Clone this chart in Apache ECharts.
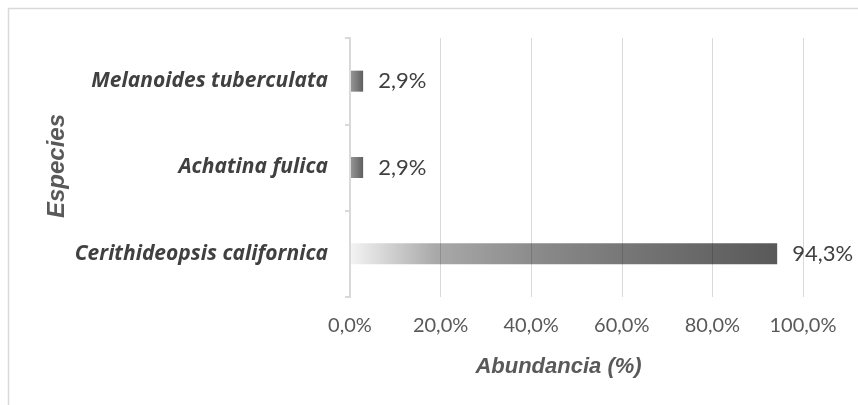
<!DOCTYPE html>
<html>
<head>
<meta charset="utf-8">
<script src="https://cdn.jsdelivr.net/npm/echarts@6/dist/echarts.min.js"></script>
<style>html,body{margin:0;padding:0;background:#fff}#c{width:858px;height:405px}</style>
</head>
<body>
<div id="c"></div>
<script>
const categories = ['Cerithideopsis californica', 'Achatina fulica', 'Melanoides tuberculata'];
const values = [94.3, 2.9, 2.9];
const xMin = 0, xMax = 100, xStep = 20;
const yAxisTitle = 'Especies';
const xAxisTitle = 'Abundancia (%)';

function pct(v) { return v.toFixed(1).replace('.', ',') + '%'; }

function barColor(v) {
  if (v > 20) {
    return new echarts.graphic.LinearGradient(0, 0, 1, 0, [
      { offset: 0, color: '#f4f4f4' },
      { offset: 0.2, color: '#a9a9a9' },
      { offset: 0.45, color: '#898989' },
      { offset: 0.7, color: '#727272' },
      { offset: 1, color: '#595959' }
    ]);
  }
  return new echarts.graphic.LinearGradient(0, 0, 1, 0, [
    { offset: 0, color: '#9a9a9a' },
    { offset: 1, color: '#5f5f5f' }
  ]);
}

const chart = echarts.init(document.getElementById('c'), null, { renderer: 'canvas' });
chart.setOption({
  animation: false,
  backgroundColor: '#ffffff',
  graphic: [{
    type: 'rect', z: -10,
    shape: { x: 8.5, y: 8.5, width: 900, height: 500 },
    style: { fill: 'none', stroke: '#d9d9d9', lineWidth: 1.5 }
  }, {
    type: 'text', x: 57, y: 166, rotation: Math.PI / 2,
    style: {
      text: yAxisTitle, textAlign: 'center', textVerticalAlign: 'middle',
      fontFamily: 'Liberation Sans', fontWeight: 'bold', fontStyle: 'italic', fontSize: 24, fill: '#595959'
    }
  }],
  grid: { left: 350, right: 55, top: 38, bottom: 108, containLabel: false },
  xAxis: {
    type: 'value', min: xMin, max: xMax, interval: xStep, z: 3,
    name: xAxisTitle, nameLocation: 'middle', nameGap: 59,
    nameTextStyle: { fontFamily: 'Liberation Sans', fontWeight: 'bold', fontStyle: 'italic', fontSize: 22, color: '#595959', padding: [0, 36, 0, 0] },
    axisLine: { show: false }, axisTick: { show: false },
    axisLabel: { formatter: pct, fontFamily: 'Lato', fontSize: 20, color: '#595959', margin: 19 },
    splitLine: { show: true, lineStyle: { color: 'rgba(0,0,0,0.15)', width: 1 } }
  },
  yAxis: {
    type: 'category', data: categories, z: 4,
    axisLine: { show: true, lineStyle: { color: '#d9d9d9', width: 2 } },
    axisTick: { show: true, length: 5, lineStyle: { color: '#d9d9d9', width: 2 } },
    axisLabel: { fontFamily: 'Open Sans', fontWeight: 'bold', fontStyle: 'italic', fontSize: 21, color: '#404040', margin: 22 },
    splitLine: { show: false }
  },
  series: [{
    type: 'bar', barWidth: 21, z: 2,
    data: values.map(v => ({ value: v, itemStyle: { color: barColor(v) } })),
    label: {
      show: true, position: 'right', distance: 15,
      formatter: p => pct(p.value),
      fontFamily: 'Lato', fontSize: 22, color: '#404040'
    }
  }]
});
</script>
</body>
</html>
